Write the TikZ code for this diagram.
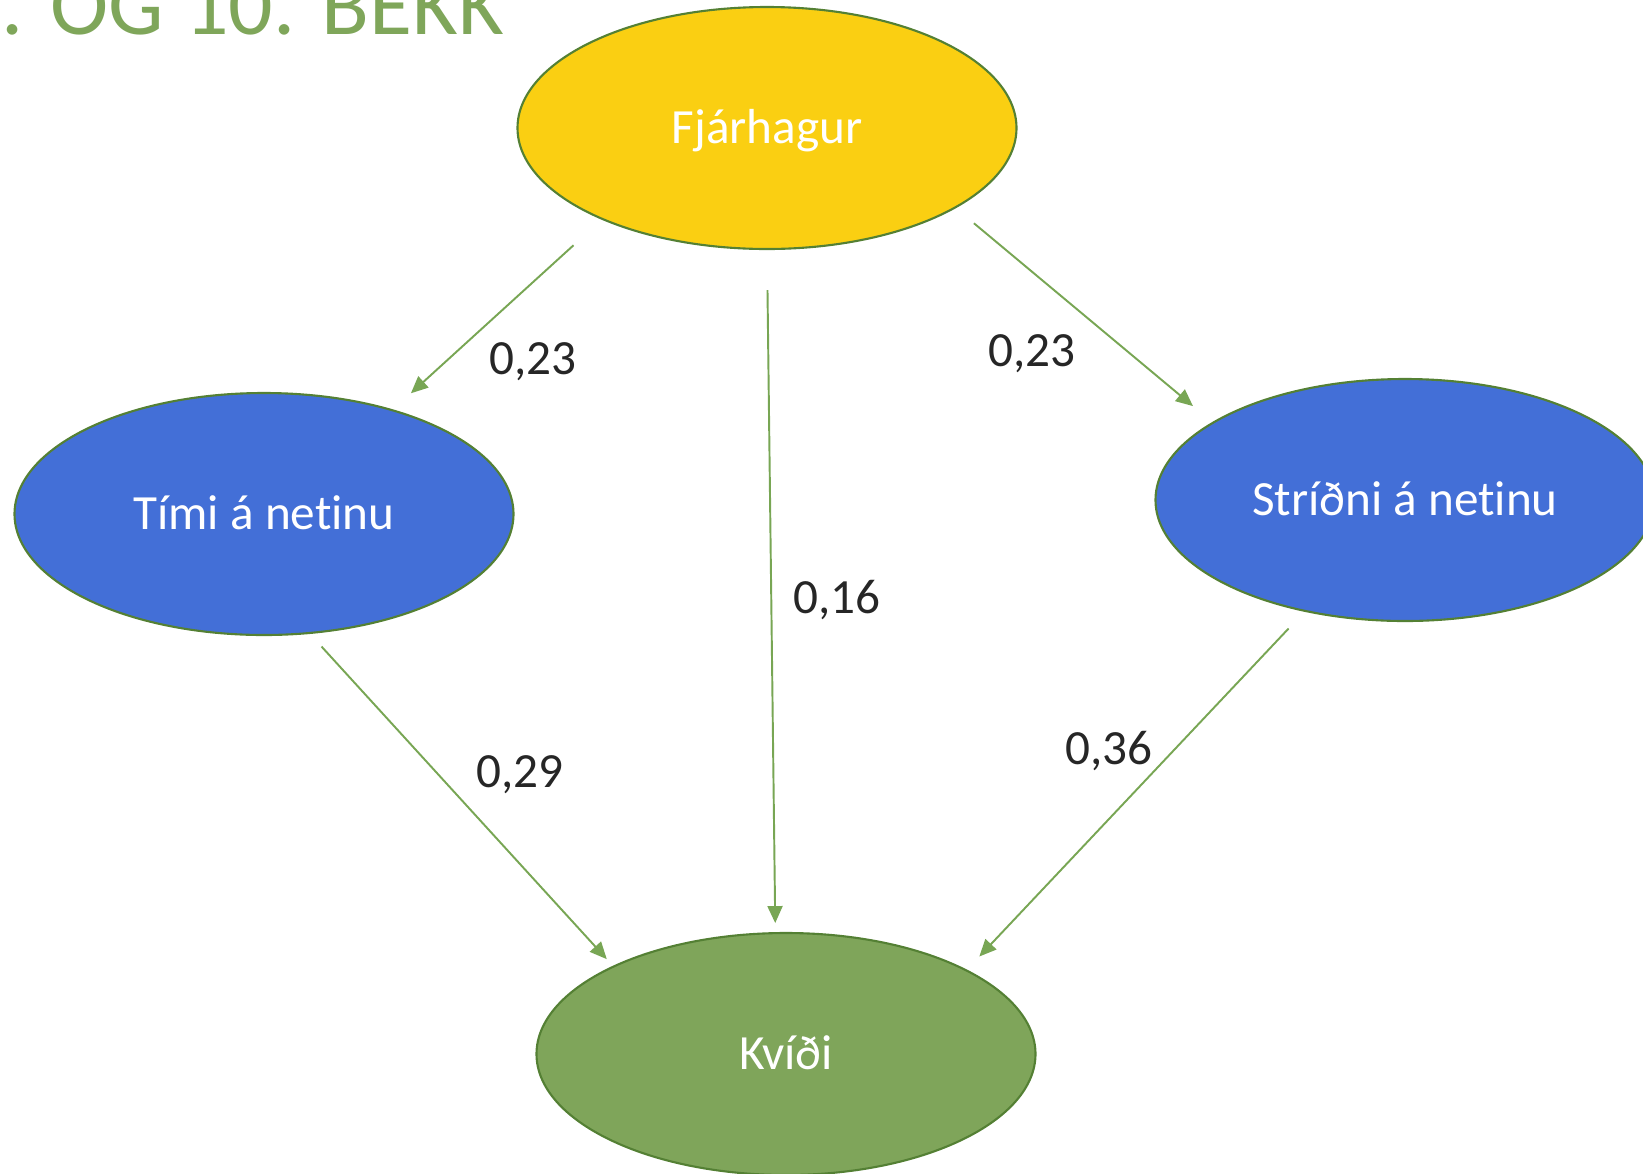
\documentclass[tikz,border=0pt]{standalone}
\usepackage{fontspec}
\setmainfont{Carlito}[RawFeature = {-liga;-clig;-calt;-dlig}]
\usetikzlibrary{arrows.meta,shapes.geometric}

\definecolor{headgreen}{RGB}{127,166,90}
\definecolor{rimgreen}{RGB}{84,128,52}
\definecolor{arrowgreen}{RGB}{120,166,84}
\definecolor{cashyellow}{RGB}{250,207,18}
\definecolor{netblue}{RGB}{67,111,215}
\definecolor{fretgreen}{RGB}{127,165,90}
\definecolor{coefgray}{RGB}{38,38,38}

\tikzset{
    factor/.style = {ellipse, draw = rimgreen, line width = 0.6pt,
        minimum width = 49.9mm, minimum height = 24.2mm, inner sep = 0pt,
        text = white, text height = 2.3ex, text depth = 0.5ex,
        font = \fontsize{14}{17}\selectfont},
    effect/.style = {draw = arrowgreen, line width = 0.55pt,
        -{Triangle[length = 1.7mm, width = 1.5mm]}},
    coef/.style = {text = coefgray, font = \fontsize{14}{17}\selectfont}
}

\begin{document}
\begin{tikzpicture}[x = 0.1mm, y = -0.1mm]
        \useasboundingbox (0,0) rectangle (1643,1173);
        \clip (0,0) rectangle (1643,1173);
        \node [anchor = base west, text = headgreen, font = \fontsize{25}{30}\selectfont]
            (heading) at (-55, 34) {9. OG 10. BEKK};

        \node [factor, fill = cashyellow] (fjar) at (767, 128) {Fjárhagur};
        \node [factor, fill = netblue] (timi) at (264, 514) {Tími á netinu};
        \node [factor, fill = netblue] (stridni) at (1405, 500) {Stríðni á netinu};
        \node [factor, fill = fretgreen] (kvidi) at (786, 1054) {Kvíði};

        \draw [effect, shorten <= 3.8mm, shorten >= 2.4mm] (fjar.209) -- (timi.39);
        \draw [effect, shorten <= 4mm, shorten >= 0.9mm] (fjar.270) -- (kvidi.95.7);
        \draw [effect, shorten <= 2.35mm, shorten >= 2.5mm] (fjar.337.4) -- (stridni.158.1);
        \draw [effect, shorten <= 1.7mm, shorten >= 0.9mm] (timi.291.3) -- (kvidi.153.2);
        \draw [effect, shorten <= 2.3mm, shorten >= 1.8mm] (stridni.228.7) -- (kvidi.25.4);

        \node [coef] (fjartimi) at (533, 362) {0,23};
        \node [coef] (fjarstridni) at (1032, 354) {0,23};
        \node [coef] (fjarkvidi) at (837, 600) {0,16};
        \node [coef] (timikvidi) at (520, 775) {0,29};
        \node [coef] (stridnikvidi) at (1109, 751) {0,36};
    \end{tikzpicture}
\end{document}
